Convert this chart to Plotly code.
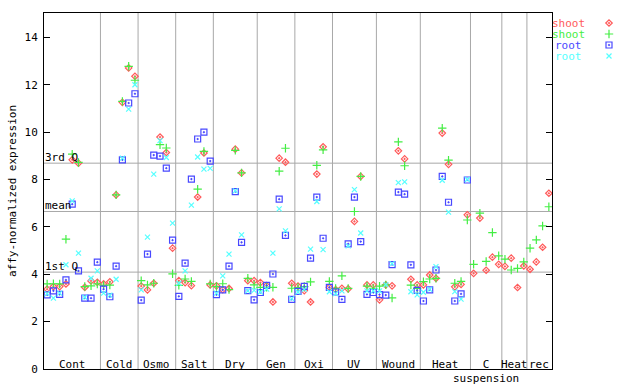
import plotly.graph_objects as go

# ---------------- data ----------------
group_labels = ["Cont", "Cold", "Osmo", "Salt", "Dry", "Gen", "Oxi", "UV", "Wound",
                "Heat", "C<br>suspension", "Heat", "rec"]
group_sizes = [9, 6, 6, 6, 7, 6, 6, 7, 7, 8, 5, 4, 4]

shoot_red = [3.37, 3.48, 3.48, 3.59, 8.83, 8.69, 3.45, 3.72, 3.66,
             3.59, 3.68, 7.35, 11.26, 12.71, 12.36,
             3.50, 3.34, 3.62, 9.79, 9.14, 5.10,
             3.73, 3.65, 3.52, 7.26, 9.12, 3.55,
             3.51, 3.35, 3.40, 9.28, 8.28, 3.73, 3.73,
             3.65, 3.52, 2.83, 8.90, 8.73, 3.62,
             3.50, 3.31, 2.83, 8.23, 9.38, 3.45,
             3.35, 3.41, 3.38, 6.23, 8.13, 3.55, 3.55,
             2.92, 3.55, 3.51, 9.21, 8.87, 3.79, 3.55,
             3.55, 3.97, 3.83, 9.96, 8.64, 3.47, 3.57, 6.51,
             4.04, 6.37, 4.17, 4.72, 4.42,
             4.33, 4.68, 3.44, 4.35,
             4.21, 4.52, 5.14, 7.42]

shoot_green = [3.59, 3.60, 3.59, 5.48, 9.07, 8.72, 3.48, 3.51, 3.59,
               3.53, 3.54, 7.35, 11.30, 12.78, 12.19,
               3.73, 3.55, 3.62, 9.47, 9.33, 4.02,
               3.53, 3.80, 3.70, 7.59, 9.19, 3.59,
               3.48, 3.60, 3.35, 9.23, 8.28, 3.83, 3.55,
               3.45, 3.45, 3.45, 8.35, 9.32, 3.41,
               3.44, 3.48, 3.68, 8.60, 9.25, 3.70,
               3.40, 3.93, 3.40, 6.65, 8.13, 3.50, 3.40,
               3.50, 3.55, 3.00, 9.59, 8.58, 3.54, 3.40,
               3.69, 3.80, 3.83, 10.17, 8.82, 3.62, 3.70, 6.29,
               4.42, 6.58, 4.54, 5.76, 4.78,
               4.64, 4.18, 4.25, 4.52,
               5.10, 5.45, 6.04, 6.85]

root_blue = [3.13, 3.30, 3.15, 3.76, 6.96, 4.14, 2.99, 2.99, 4.51,
             3.37, 3.05, 4.34, 8.83, 11.23, 11.62,
             2.91, 4.85, 9.03, 8.99, 8.48, 5.44,
             3.07, 4.47, 8.02, 9.71, 10.00, 8.78,
             3.14, 3.34, 4.34, 7.49, 5.35, 3.31, 2.92,
             3.23, 3.53, 4.01, 7.17, 5.64, 2.94,
             3.28, 3.49, 4.68, 7.26, 5.52, 3.45,
             3.25, 2.94, 5.28, 7.26, 5.38, 3.15, 3.23,
             3.14, 3.12, 4.41, 7.47, 7.38, 4.40, 3.32,
             2.87, 3.34, 4.18, 8.13, 7.04, 2.87, 3.17, 7.98,
             None, None, None, None, None,
             None, None, None, None,
             None, None, None, None]

root_cyan = [3.18, 2.99, 3.20, 4.40, 7.10, 4.89, 3.03, 3.83, 4.14,
             3.20, 3.12, 3.79, 8.90, 10.97, 12.00,
             3.34, 5.57, 8.23, 9.64, 8.93, 6.16,
             3.62, 4.14, 6.92, 8.95, 8.44, 8.47,
             3.20, 3.93, 4.85, 7.52, 5.66, 3.30, 3.32,
             3.25, 3.37, 4.89, 6.76, 5.83, 2.97,
             3.25, 3.36, 5.06, 7.07, 5.04, 3.26,
             3.18, 3.30, 5.20, 7.57, 5.74, 3.30, 3.30,
             3.30, 3.56, 4.45, 7.87, 7.90, 3.26, 3.13,
             3.24, 3.36, 4.32, 7.97, 6.62, 3.27, 2.95, 8.00,
             None, None, None, None, None,
             None, None, None, None,
             None, None, None, None]

quartile_names = ["3rd Q", "mean", "1st Q"]
quartile_values = [8.69, 6.65, 4.09]

series_names = ["shoot", "shoot", "root", "root"]
y_ticks = [0, 2, 4, 6, 8, 10, 12, 14]

# ---------------- styles ----------------
colors = ["#ff5a5a", "#44ee44", "#4848ff", "#55ffff"]
symbols = ["diamond-open-dot", "cross-thin-open", "square-open-dot", "x-thin-open"]
sizes = [5, 6, 6, 5]
FONT = "DejaVu Sans Mono"

W, H = 640, 384
ML, MT, MB = 44, 13, 15
plot_right = 552
pw = W - ML
ph = H - MT - MB
main_dom = (plot_right - ML) / pw

n = sum(group_sizes)
xs = list(range(n))

fig = go.Figure()
all_series = [shoot_red, shoot_green, root_blue, root_cyan]
for vals, c, s, sz, nm in zip(all_series, colors, symbols, sizes, series_names):
    fig.add_trace(go.Scatter(
        x=xs, y=vals, mode="markers", name=nm, showlegend=False,
        marker=dict(symbol=s, size=sz, color=c, line=dict(color=c, width=1.2)),
        xaxis="x", yaxis="y"))

# group separators and quartile lines
shapes = []
b = -0.5
bounds = []
for gs in group_sizes:
    bounds.append((b, b + gs))
    b += gs
for lo, hi in bounds[:-1]:
    shapes.append(dict(type="line", xref="x", yref="paper", x0=hi, x1=hi, y0=0, y1=1,
                       line=dict(color="#a8a8a8", width=1), layer="below"))
for qv in quartile_values:
    shapes.append(dict(type="line", xref="x", yref="y", x0=-0.5, x1=n - 0.5, y0=qv, y1=qv,
                       line=dict(color="#a8a8a8", width=1), layer="below"))

annotations = []
for (lo, hi), lab in zip(bounds, group_labels):
    annotations.append(dict(x=(lo + hi) / 2, y=(H - MB - 357) / ph, xref="x", yref="paper",
                            text=lab, showarrow=False, xanchor="center", yanchor="top",
                            font=dict(family=FONT, size=11, color="black"), borderpad=0))
for qn, qv in zip(quartile_names, quartile_values):
    annotations.append(dict(x=-0.5, y=qv, xref="x", yref="y", text=qn, showarrow=False,
                            xanchor="left", yanchor="bottom", yshift=-2,
                            font=dict(family=FONT, size=11, color="black"), borderpad=0))

# legend (text left, marker right), drawn in a pixel-scaled overlay axis
legend_rows = [23, 34, 45, 56]
for r, nm, c in zip(legend_rows, series_names, colors):
    annotations.append(dict(x=568, y=r, xref="x2", yref="y2", text=nm, showarrow=False,
                            xanchor="center", yanchor="middle",
                            font=dict(family=FONT, size=11, color=c), borderpad=0))
for r, c, s, sz in zip(legend_rows, colors, symbols, sizes):
    fig.add_trace(go.Scatter(x=[609], y=[r], mode="markers", showlegend=False,
                             marker=dict(symbol=s, size=sz, color=c, line=dict(color=c, width=1.2)),
                             xaxis="x2", yaxis="y2", hoverinfo="skip"))

fig.update_layout(
    width=W, height=H,
    margin=dict(l=ML, r=0, t=MT, b=MB),
    paper_bgcolor="white", plot_bgcolor="white",
    showlegend=False,
    shapes=shapes, annotations=annotations,
    xaxis=dict(domain=[0, main_dom], range=[-0.5, n - 0.5], showticklabels=False,
               ticks="", showgrid=False, zeroline=False, showline=True,
               linecolor="black", linewidth=1, mirror=True),
    yaxis=dict(range=[0, 15.03], tickvals=y_ticks, ticktext=[str(t) for t in y_ticks],
               ticks="inside", ticklen=6, tickcolor="black", showgrid=False, zeroline=False,
               showline=True, linecolor="black", linewidth=1, mirror="ticks",
               tickfont=dict(family=FONT, size=11, color="black"), ticklabelstandoff=3,
               title=dict(text="affy-normalized expression", standoff=5,
                          font=dict(family=FONT, size=11, color="black"))),
    xaxis2=dict(domain=[main_dom, 1], range=[plot_right, W], visible=False, anchor="y2"),
    yaxis2=dict(domain=[0, 1], range=[H - MB, MT], visible=False, anchor="x2"),
)

fig.write_html("out.html", config={"displayModeBar": False},
               post_script="document.body.style.margin='0px';")
